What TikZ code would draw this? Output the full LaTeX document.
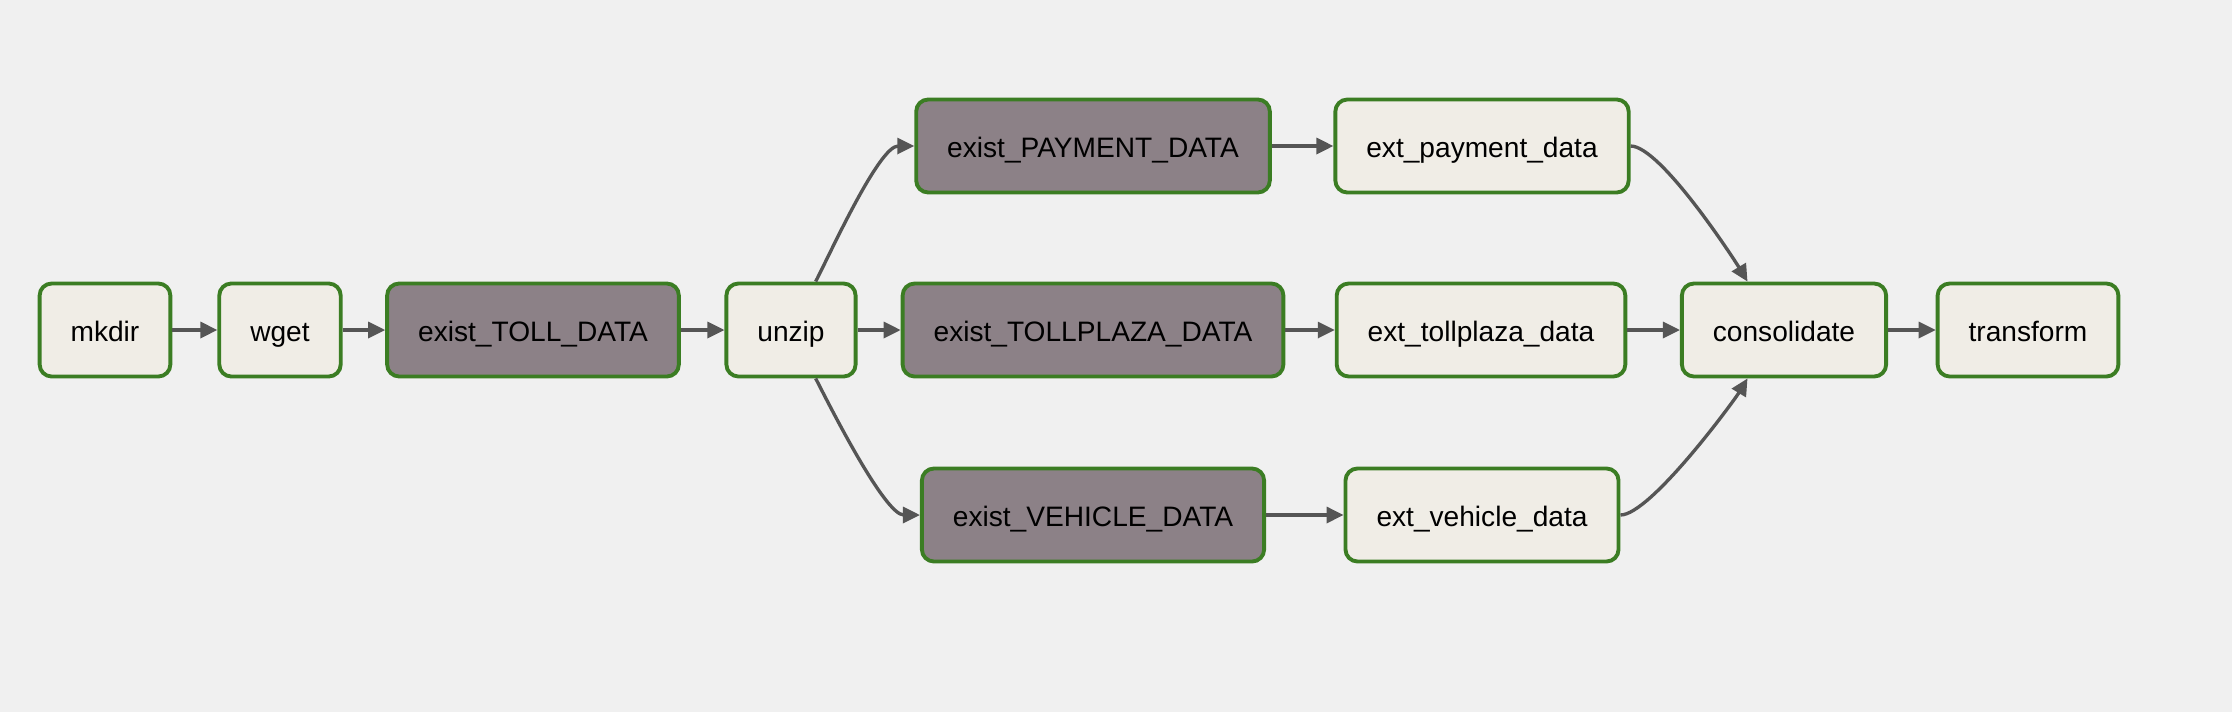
\documentclass[tikz,border=0pt]{standalone}
\usepackage{fontspec}
\setmainfont{Liberation Sans}
\usetikzlibrary{arrows.meta}
\definecolor{bgcol}{HTML}{F0F0F0}
\definecolor{taskfill}{HTML}{F0EDE6}
\definecolor{sensorfill}{HTML}{8C8187}
\definecolor{okgreen}{HTML}{3B7D23}
\definecolor{edgecol}{HTML}{555555}
\begin{document}
\begin{tikzpicture}[
    task/.style={draw=okgreen,line width=1.1pt,rounded corners=0.12cm,fill=taskfill,
        minimum height=0.93cm,inner xsep=0.31cm,text height=0.25cm,text depth=0.02cm,
        font=\fontsize{8pt}{9.6pt}\selectfont},
    sensor/.style={task,fill=sensorfill},
    flow/.style={draw=edgecol,line width=0.95pt,-{Triangle[length=0.17cm,width=0.16cm]}}]
    \fill[bgcol](0,0)rectangle(22.32,7.12);
    \node[task](mkdir)at(1.05,3.82){mkdir};
    \node[task](wget)at(2.80,3.82){wget};
    \node[sensor](tolldata)at(5.33,3.82){exist\_TOLL\_DATA};
    \node[task](unzip)at(7.91,3.82){unzip};
    \node[sensor](paydata)at(10.93,5.66){exist\_PAYMENT\_DATA};
    \node[sensor](plazadata)at(10.93,3.82){exist\_TOLLPLAZA\_DATA};
    \node[sensor](vehdata)at(10.93,1.97){exist\_VEHICLE\_DATA};
    \node[task](extpay)at(14.82,5.66){ext\_payment\_data};
    \node[task](extplaza)at(14.81,3.82){ext\_tollplaza\_data};
    \node[task](extveh)at(14.82,1.97){ext\_vehicle\_data};
    \node[task](consol)at(17.84,3.82){consolidate};
    \node[task](transf)at(20.28,3.82){transform};
    \draw[flow](mkdir)--(wget);
    \draw[flow](wget)--(tolldata);
    \draw[flow](tolldata)--(unzip);
    \draw[flow](unzip)--(plazadata);
    \draw[flow](unzip.63)to[out=63,in=180,out distance=0.35cm,in distance=0.35cm](paydata.west);
    \draw[flow](unzip.-63)to[out=-63,in=180,out distance=0.35cm,in distance=0.35cm](vehdata.west);
    \draw[flow](paydata)--(extpay);
    \draw[flow](plazadata)--(extplaza);
    \draw[flow](vehdata)--(extveh);
    \draw[flow](extpay.east)to[out=0,in=121,out distance=0.3cm,in distance=0.25cm](consol.127);
    \draw[flow](extplaza)--(consol);
    \draw[flow](extveh.east)to[out=0,in=-121,out distance=0.3cm,in distance=0.25cm](consol.-127);
    \draw[flow](consol)--(transf);
\end{tikzpicture}
\end{document}
